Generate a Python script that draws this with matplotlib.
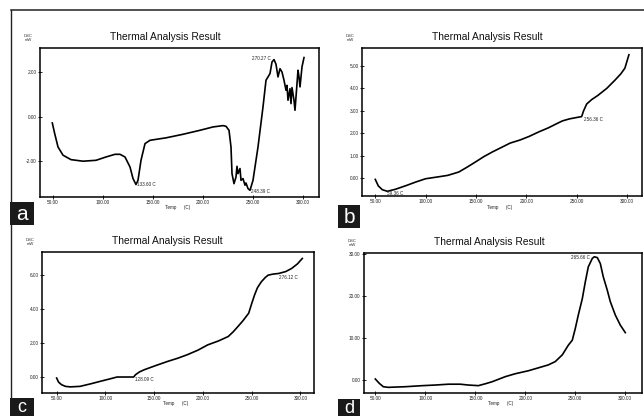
import matplotlib
matplotlib.use("Agg")
import matplotlib.pyplot as plt
from matplotlib.lines import Line2D
from matplotlib.patches import Rectangle

plt.rcParams['font.family'] = ['Liberation Sans', 'DejaVu Sans']

# Panel a
temp_a = [49.3, 51.7, 55, 60, 68, 80, 93, 103, 112, 117, 122, 127, 130, 133, 135, 138, 142,
          147, 163, 180, 197, 210, 220, 223, 226, 228, 229, 231, 233, 234, 235, 237, 238, 240,
          242, 243, 245, 247, 250, 255, 260, 263, 267, 269, 271, 273, 275, 277, 279, 281, 283,
          284, 285, 287, 288, 289, 291, 292, 293, 295, 296, 297, 299, 301]
dsc_a = [-0.27, -0.75, -1.35, -1.72, -1.92, -1.99, -1.95, -1.8, -1.68, -1.68, -1.8, -2.25,
         -2.77, -3.04, -2.85, -1.95, -1.2, -1.05, -0.94, -0.78, -0.6, -0.45, -0.39, -0.42,
         -0.6, -1.35, -2.55, -3.0, -2.7, -2.22, -2.55, -2.32, -2.85, -2.77, -3.07, -2.97,
         -3.22, -3.3, -2.85, -1.35, 0.45, 1.65, 1.95, 2.47, 2.58, 2.37, 1.8, 2.17, 2.02, 1.65,
         1.2, 1.42, 0.75, 1.27, 0.6, 1.32, 0.75, 0.3, 0.9, 2.1, 1.8, 1.35, 2.25, 2.67]

# Panel b
temp_b = [50, 53, 57, 62, 70, 81, 90, 100, 112, 122, 133, 141, 150, 158, 167, 176, 184, 194,
          203, 212, 222, 230, 236, 243, 250, 255, 257, 260, 265, 271, 280, 288, 294, 298, 302]
dsc_b = [-0.06, -0.35, -0.52, -0.59, -0.5, -0.33, -0.18, -0.03, 0.05, 0.12, 0.27, 0.48,
         0.73, 0.96, 1.18, 1.38, 1.56, 1.7, 1.86, 2.05, 2.24, 2.42, 2.55, 2.64, 2.7, 2.74,
         3.0, 3.3, 3.5, 3.68, 4.0, 4.36, 4.65, 4.9, 5.5]

# Panel c
temp_c = [50, 52, 55, 59, 64, 74, 85, 95, 104, 112, 120, 129, 131, 135, 140, 152, 164, 174,
          184, 195, 205, 216, 226, 231, 236, 241, 247, 250, 253, 256, 260, 264, 267, 272, 278,
          285, 291, 297, 302]
dsc_c = [-0.06, -0.3, -0.45, -0.55, -0.58, -0.55, -0.4, -0.25, -0.12, 0.0, 0.0, 0.0, 0.14,
         0.3, 0.43, 0.68, 0.92, 1.1, 1.31, 1.58, 1.89, 2.12, 2.38, 2.65, 2.97, 3.3, 3.75,
         4.3, 4.82, 5.25, 5.6, 5.85, 5.99, 6.05, 6.09, 6.2, 6.38, 6.65, 6.97]

# Panel d
temp_d = [50, 54, 58, 63, 80, 97, 110, 123, 135, 143, 150, 153, 160, 167, 180, 190, 203,
          213, 223, 230, 237, 243, 247, 250, 253, 257, 260, 263, 267, 269, 272, 275, 278, 282,
          285, 290, 295, 300]
dsc_d = [0.24, -0.8, -1.6, -1.75, -1.6, -1.35, -1.2, -1.0, -1.0, -1.2, -1.3, -1.35, -0.9,
         -0.4, 0.8, 1.5, 2.2, 2.9, 3.6, 4.4, 6.0, 8.3, 9.5, 12.3, 15.5, 19.4, 23.4, 27.0,
         29.0, 29.4, 29.2, 27.8, 24.6, 21.4, 18.7, 15.5, 13.1, 11.3]

W, H = 644, 416
fig = plt.figure(figsize=(W / 100, H / 100), dpi=100)
fig.patch.set_facecolor('white')


def fx(x):
    return x / W


def fy(y):
    return 1 - y / H


def panel(box, temp, dsc, xlim, ylim, yticks, notes, letter, letter_box, letter_size=15):
    left, top, right, bottom = box
    ax = fig.add_axes([fx(left), fy(bottom), fx(right - left), (bottom - top) / H])
    ax.plot(temp, dsc, color='black', lw=1.2)
    ax.set_xlim(*xlim)
    ax.set_ylim(*ylim)
    ax.set_xticks([50, 100, 150, 200, 250, 300])
    ax.set_xticklabels(['%.2f' % t for t in [50, 100, 150, 200, 250, 300]])
    ax.set_yticks(yticks)
    ax.set_yticklabels(['%.2f' % v for v in yticks])
    ax.tick_params(direction='inout', length=2.5, width=0.6, labelsize=3.4,
                   labelcolor='#222222', pad=1.2)
    for s in ax.spines.values():
        s.set_linewidth(1.1)
    for x, y, txt, ha, va in notes:
        ax.text(x, y, txt, fontsize=3.3, color='#222222', ha=ha, va=va)
    # title, axis labels
    fig.text(fx(left + 125), fy(top - 11), 'Thermal Analysis Result', fontsize=7.4,
             ha='center', va='center', color='#111111')
    fig.text(fx(left - 12), fy(top - 10), 'DSC\nmW', fontsize=3.0, ha='center', va='center',
             color='#333333', linespacing=1.0)
    fig.text(fx((left + right) / 2 - 2), fy(bottom + 11), 'Temp      (C)', fontsize=3.3,
             ha='center', va='center', color='#222222')
    lx0, ly0, lx1, ly1 = letter_box
    fig.add_artist(Rectangle((fx(lx0), fy(ly1)), fx(lx1 - lx0), (ly1 - ly0) / H,
                             transform=fig.transFigure, facecolor='#1a1a1a',
                             edgecolor='none', zorder=5))
    fig.text(fx((lx0 + lx1) / 2), fy((ly0 + ly1) / 2 + 1), letter, fontsize=letter_size,
             color='white', ha='center', va='center', zorder=6)
    return ax


panel((40, 48, 319, 197), temp_a, dsc_a, (37, 316), (-3.6, 3.1), [-2, 0, 2],
      [(134, -3.05, '133.60 C', 'left', 'center'),
       (248, -3.35, '248.39 C', 'left', 'center'),
       (270, 2.62, '270.27 C  ', 'right', 'center')],
      'a', (10, 202, 34, 225))

panel((362, 48, 642, 196), temp_b, dsc_b, (36.8, 315), (-0.8, 5.8), [0, 1, 2, 3, 4, 5],
      [(62, -0.68, '59.36 C', 'left', 'center'),
       (257, 2.6, '256.36 C', 'left', 'center')],
      'b', (338, 205, 360, 228))

panel((42, 252, 314, 393), temp_c, dsc_c, (35, 314), (-0.94, 7.35), [0, 2, 4, 6],
      [(130, -0.15, '128.09 C', 'left', 'center'),
       (278, 5.85, '276.12 C', 'left', 'center')],
      'c', (10, 398, 34, 416), letter_size=13)

panel((364, 253, 642, 393), temp_d, dsc_d, (38.7, 316.7), (-3.1, 30.3), [0, 10, 20, 30],
      [(266, 29.3, '265.66 C ', 'right', 'center')],
      'd', (338, 399, 360, 416), letter_size=13)

# outer frame lines
fig.add_artist(Line2D([fx(11), fx(644)], [fy(10), fy(10)], color='#222222', lw=1.1,
                      transform=fig.transFigure))
fig.add_artist(Line2D([fx(11), fx(11)], [fy(10), fy(416)], color='#222222', lw=1.0,
                      transform=fig.transFigure))

fig.savefig('out.png', dpi=100)
